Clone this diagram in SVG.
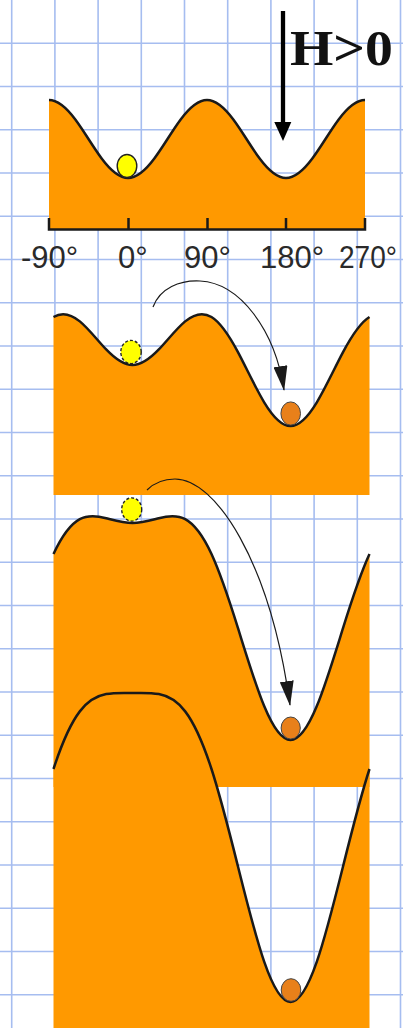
<svg xmlns="http://www.w3.org/2000/svg" width="403" height="1028" viewBox="0 0 403 1028">
<style>
.grid{fill:none;stroke:#a6bdf0;stroke-width:1.6}
.land{fill:#ff9900;stroke:none}
.curve{fill:none;stroke:#1a1a1a;stroke-width:2.5;stroke-linejoin:round}
.deg{font-family:"Liberation Sans",Arial,sans-serif;font-size:31px;fill:#2a2a2a}
.ball-y{fill:#ffff00;stroke:#222;stroke-width:1.4}
.ball-yd{fill:#ffff00;stroke:#222;stroke-width:1.4;stroke-dasharray:3 2}
.ball-o{fill:#e8801a;stroke:#444;stroke-width:1}
.conn{fill:none;stroke:#1a1a1a;stroke-width:1.2}
</style>
<defs>
<marker id="ah" markerUnits="userSpaceOnUse" markerWidth="25" markerHeight="14" refX="24" refY="7" orient="auto"><path d="M0,0 L25,7 L0,14 Z" fill="#1a1a1a"/></marker>
</defs>
<rect width="403" height="1028" fill="#ffffff"/>
<path class="grid" d="M11.7,0V1028M54.9,0V1028M98.1,0V1028M141.3,0V1028M184.5,0V1028M227.7,0V1028M270.9,0V1028M314.1,0V1028M357.3,0V1028M400.5,0V1028M0,43.25H403M0,86.5H403M0,129.75H403M0,173H403M0,216.25H403M0,259.5H403M0,302.75H403M0,346H403M0,389.25H403M0,432.5H403M0,475.75H403M0,519H403M0,562.25H403M0,605.5H403M0,648.75H403M0,692H403M0,735.25H403M0,778.5H403M0,821.75H403M0,865H403M0,908.25H403M0,951.5H403M0,994.75H403"/>

<g id="panel1">
<path class="land" d="M49,100C57.78,100 66.55,107.71 75.33,119.5C84.11,131.29 92.89,146.71 101.67,158.5C110.45,170.29 119.22,178 128,178C136.78,178 145.55,170.29 154.33,158.5C163.11,146.71 171.89,131.29 180.67,119.5C189.45,107.71 198.22,100 207,100C215.78,100 224.55,107.71 233.33,119.5C242.11,131.29 250.89,146.71 259.67,158.5C268.45,170.29 277.22,178 286,178C294.78,178 303.55,170.29 312.33,158.5C321.11,146.71 329.89,131.29 338.67,119.5C347.45,107.71 356.22,100 365,100L365,229L49,229Z"/>
<path class="curve" d="M49,100C57.78,100 66.55,107.71 75.33,119.5C84.11,131.29 92.89,146.71 101.67,158.5C110.45,170.29 119.22,178 128,178C136.78,178 145.55,170.29 154.33,158.5C163.11,146.71 171.89,131.29 180.67,119.5C189.45,107.71 198.22,100 207,100C215.78,100 224.55,107.71 233.33,119.5C242.11,131.29 250.89,146.71 259.67,158.5C268.45,170.29 277.22,178 286,178C294.78,178 303.55,170.29 312.33,158.5C321.11,146.71 329.89,131.29 338.67,119.5C347.45,107.71 356.22,100 365,100"/>
<path fill="none" stroke="#1a1a1a" stroke-width="2.5" d="M49,218V229.5H365V218M128.5,218V229M207.5,218V229M286,218V229"/>
<text class="deg" x="21" y="268">-90°</text>
<text class="deg" x="118" y="268">0°</text>
<text class="deg" x="184" y="268">90°</text>
<text class="deg" x="260" y="268">180°</text>
<text class="deg" x="339" y="268" textLength="58" lengthAdjust="spacingAndGlyphs">270°</text>
<ellipse class="ball-y" cx="127" cy="166" rx="9.8" ry="11.5"/>
</g>

<g id="field">
<line x1="283" y1="11" x2="283" y2="126" stroke="#000" stroke-width="4.3"/>
<path d="M274.3,122L291.3,122L283,141Z" fill="#000"/>
<text x="290" y="65" font-family="'Liberation Serif','Times New Roman',serif" font-weight="bold" font-size="50" textLength="103" lengthAdjust="spacingAndGlyphs" fill="#111">H&gt;0</text>
</g>

<g id="panel2">
<path class="land" d="M53.5,317C62.28,311.68 71.05,314.12 79.83,321.38C88.61,328.64 97.39,340.26 106.17,349.46C114.95,358.66 123.72,365 132.5,365C141.28,365 150.05,358.66 158.83,349.46C167.61,340.26 176.39,328.64 185.17,321.38C193.95,314.12 202.72,311.68 211.5,317C220.28,322.32 229.05,335.41 237.83,351.88C246.61,368.35 255.39,387.76 264.17,402.29C272.95,416.82 281.72,426 290.5,426C299.28,426 308.05,416.82 316.83,402.29C325.61,387.76 334.39,368.35 343.17,351.88C351.95,335.41 360.72,322.32 369.5,317L369.5,495L53.5,495Z"/>
<path class="curve" d="M53.5,317C62.28,311.68 71.05,314.12 79.83,321.38C88.61,328.64 97.39,340.26 106.17,349.46C114.95,358.66 123.72,365 132.5,365C141.28,365 150.05,358.66 158.83,349.46C167.61,340.26 176.39,328.64 185.17,321.38C193.95,314.12 202.72,311.68 211.5,317C220.28,322.32 229.05,335.41 237.83,351.88C246.61,368.35 255.39,387.76 264.17,402.29C272.95,416.82 281.72,426 290.5,426C299.28,426 308.05,416.82 316.83,402.29C325.61,387.76 334.39,368.35 343.17,351.88C351.95,335.41 360.72,322.32 369.5,317" stroke-width="2.8"/>
</g>

<g id="panel3">
<path class="land" d="M53.5,554C62.28,535.06 71.05,523.82 79.83,519.13C88.61,514.44 97.39,515.92 106.17,518.17C114.95,520.42 123.72,523 132.5,523C141.28,523 150.05,520.42 158.83,518.17C167.61,515.92 176.39,514.44 185.17,519.13C193.95,523.82 202.72,535.06 211.5,554C220.28,572.94 229.05,599.52 237.83,627.63C246.61,655.74 255.39,684.91 264.17,706.09C272.95,727.27 281.72,740 290.5,740C299.28,740 308.05,727.27 316.83,706.09C325.61,684.91 334.39,655.74 343.17,627.63C351.95,599.52 360.72,572.94 369.5,554L369.5,787L53.5,787Z"/>
<path class="curve" d="M53.5,554C62.28,535.06 71.05,523.82 79.83,519.13C88.61,514.44 97.39,515.92 106.17,518.17C114.95,520.42 123.72,523 132.5,523C141.28,523 150.05,520.42 158.83,518.17C167.61,515.92 176.39,514.44 185.17,519.13C193.95,523.82 202.72,535.06 211.5,554C220.28,572.94 229.05,599.52 237.83,627.63C246.61,655.74 255.39,684.91 264.17,706.09C272.95,727.27 281.72,740 290.5,740C299.28,740 308.05,727.27 316.83,706.09C325.61,684.91 334.39,655.74 343.17,627.63C351.95,599.52 360.72,572.94 369.5,554"/>
</g>

<g id="panel4">
<path class="land" d="M53.5,769C62.28,742.03 71.05,722.87 79.83,711.38C88.61,699.89 97.39,695.7 106.17,694.08C114.95,692.46 123.72,693 132.5,693C141.28,693 150.05,692.46 158.83,694.08C167.61,695.7 176.39,699.89 185.17,711.38C193.95,722.87 202.72,742.03 211.5,769C220.28,795.97 229.05,830.66 237.83,865.88C246.61,901.1 255.39,936.33 264.17,961.68C272.95,987.03 281.72,1002 290.5,1002C299.28,1002 308.05,987.03 316.83,961.68C325.61,936.33 334.39,901.1 343.17,865.88C351.95,830.66 360.72,795.97 369.5,769L369.5,1028L53.5,1028Z"/>
<path class="curve" d="M53.5,769C62.28,742.03 71.05,722.87 79.83,711.38C88.61,699.89 97.39,695.7 106.17,694.08C114.95,692.46 123.72,693 132.5,693C141.28,693 150.05,692.46 158.83,694.08C167.61,695.7 176.39,699.89 185.17,711.38C193.95,722.87 202.72,742.03 211.5,769C220.28,795.97 229.05,830.66 237.83,865.88C246.61,901.1 255.39,936.33 264.17,961.68C272.95,987.03 281.72,1002 290.5,1002C299.28,1002 308.05,987.03 316.83,961.68C325.61,936.33 334.39,901.1 343.17,865.88C351.95,830.66 360.72,795.97 369.5,769" stroke-width="2.2"/>
</g>

<g id="balls">
<ellipse class="ball-yd" cx="131" cy="352" rx="10.2" ry="11.6"/>
<ellipse class="ball-o" cx="290.7" cy="413.5" rx="9.8" ry="11.6"/>
<ellipse class="ball-yd" cx="131.7" cy="509.5" rx="10" ry="11.6"/>
<ellipse class="ball-o" cx="290.7" cy="728" rx="9.6" ry="11"/>
<ellipse class="ball-o" cx="291" cy="990" rx="9.8" ry="11.3"/>
</g>

<g id="connectors">
<path class="conn" marker-end="url(#ah)" d="M153,307C160,288 180,280 200,281C240,283 275,330 284,390"/>
<path class="conn" marker-end="url(#ah)" d="M147,490C155,482 165,479 175,479C215,479 270,560 290,705"/>
</g>
</svg>
